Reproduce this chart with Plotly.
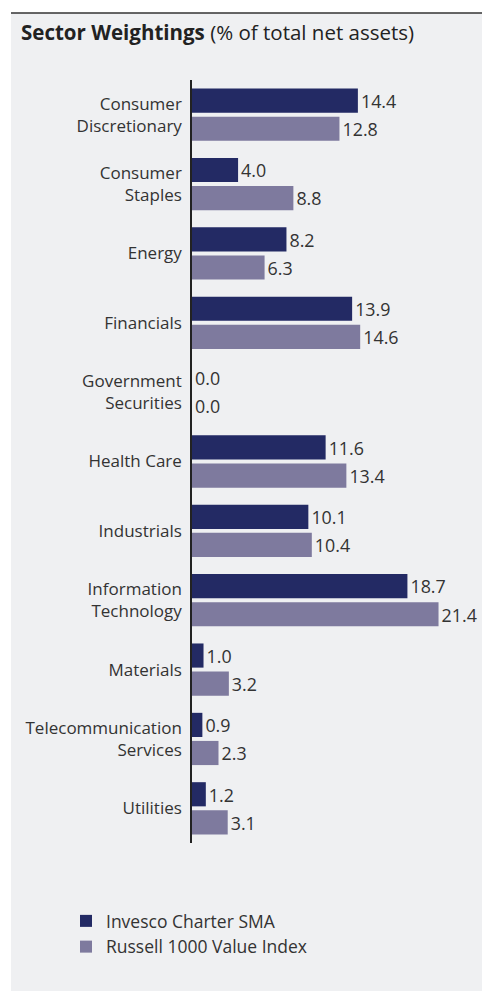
import plotly.graph_objects as go

categories = ["Consumer<br>Discretionary", "Consumer<br>Staples", "Energy", "Financials",
              "Government<br>Securities", "Health Care", "Industrials",
              "Information<br>Technology", "Materials", "Telecommunication<br>Services", "Utilities"]
sma = [14.4, 4.0, 8.2, 13.9, 0.0, 11.6, 10.1, 18.7, 1.0, 0.9, 1.2]
russell = [12.8, 8.8, 6.3, 14.6, 0.0, 13.4, 10.4, 21.4, 3.2, 2.3, 3.1]
series_names = ["Invesco Charter SMA", "Russell 1000 Value Index"]
colors = ["#232a64", "#7e7a9e"]

W, H = 482, 991
FONT = "Open Sans"
TXT = "#333333"

fig = go.Figure()
for name, vals, col in zip(series_names, [sma, russell], colors):
    fig.add_trace(go.Bar(
        y=categories, x=vals, orientation="h", name=name,
        marker=dict(color=col, line=dict(width=0)),
        text=[f"{v:.1f}" for v in vals], textposition="outside",
        textfont=dict(family=FONT, size=18.5, color=TXT),
        cliponaxis=False,
    ))

fig.update_layout(
    width=W, height=H,
    margin=dict(l=0, r=0, t=0, b=0),
    paper_bgcolor="white", plot_bgcolor="rgba(0,0,0,0)",
    barmode="group", bargap=0.19, bargroupgap=0.14,
    font=dict(family=FONT, size=17, color=TXT),
    showlegend=True,
    legend=dict(x=66 / W, y=1 - 903 / H, xanchor="left", yanchor="top",
                bgcolor="rgba(0,0,0,0)", font=dict(family=FONT, size=17.5, color=TXT),
                traceorder="normal", itemwidth=30, tracegroupgap=0),
    xaxis=dict(domain=[192 / W, 480 / W], range=[0, 25], showgrid=False,
               showticklabels=False, zeroline=False, showline=False, fixedrange=True),
    yaxis=dict(domain=[1 - 843 / H, 1 - 80 / H], autorange="reversed",
               showgrid=False, showline=True, linecolor="#222222", linewidth=1.5,
               ticks="", ticklabelstandoff=5, tickfont=dict(family=FONT, size=17, color=TXT)),
    shapes=[
        dict(type="rect", xref="paper", yref="paper", x0=11 / W, x1=1, y0=0, y1=1 - 13 / H,
             fillcolor="#eff0f2", line=dict(width=0), layer="below"),
        dict(type="line", xref="paper", yref="paper", x0=11 / W, x1=1, y0=1 - 13 / H, y1=1 - 13 / H,
             line=dict(color="#333333", width=1.5)),
    ],
    annotations=[
        dict(text="<b>Sector Weightings</b> (% of total net assets)", xref="paper", yref="paper",
             x=19 / W, y=1 - 32 / H, xanchor="left", yanchor="middle", showarrow=False,
             font=dict(family=FONT, size=20.5, color="#222222")),
    ],
)

fig.write_html("out.html")
